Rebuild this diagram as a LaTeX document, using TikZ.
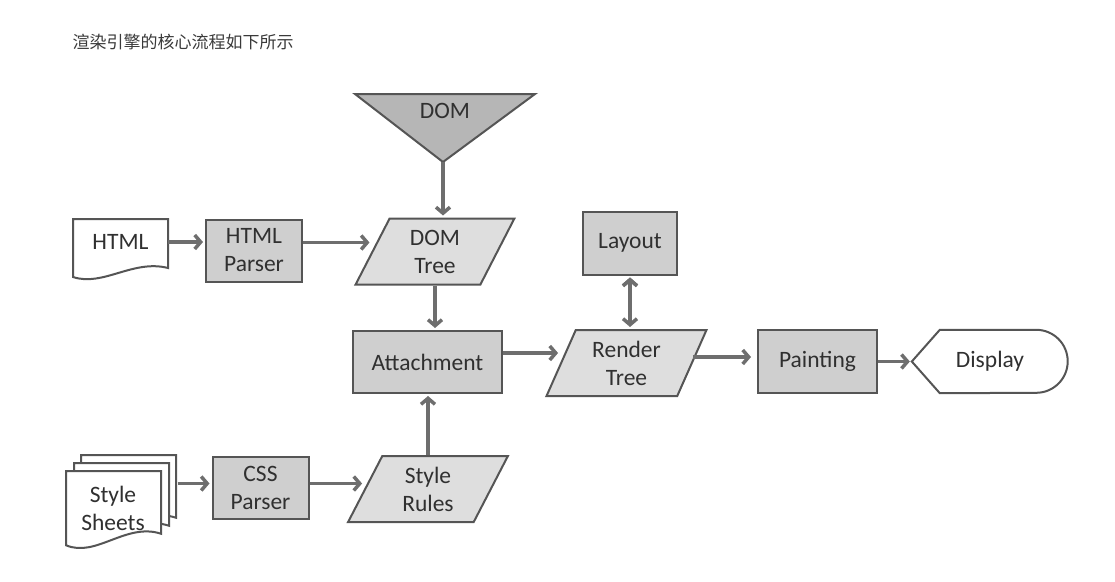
\documentclass[tikz,border=0pt]{standalone}
\usepackage{fontspec}
\setmainfont{Carlito}
\newfontfamily\cjk{Noto Sans CJK SC}
\usetikzlibrary{arrows.meta, shapes.geometric, positioning}
\definecolor{linegray}{HTML}{555555}
\definecolor{arrowgray}{HTML}{6E6E6E}
\definecolor{boxgray}{HTML}{CFCFCF}
\definecolor{datagray}{HTML}{DEDEDE}
\definecolor{trigray}{HTML}{B6B6B6}
\definecolor{textgray}{HTML}{303030}
\definecolor{titlegray}{HTML}{3A3A3A}
\newcommand{\docpage}[3]{\draw[page, shift={(#1,#2)}, yscale=#3] (0,0) -- (95,0) -- (95,49) .. controls (60,40) and (30,68) .. (0,58) -- cycle;}
\begin{document}
\begin{tikzpicture}[x=1pt, y=-1pt, font=\fontsize{23.5}{28}\selectfont, text=textgray,
        box/.style={draw=linegray, line width=2pt, fill=boxgray, minimum width=96pt, minimum height=62pt, align=center},
        data/.style={trapezium, trapezium left angle=67, trapezium right angle=113, trapezium stretches=true,
                draw=linegray, line width=2pt, fill=datagray, minimum width=160pt, minimum height=66pt, align=center},
        page/.style={draw=linegray, line width=2pt, fill=white},
        doc/.style={minimum width=95pt, minimum height=50pt, align=center},
        arr/.style={draw=arrowgray, line width=3.5pt, shorten >=2pt, -{Straight Barb[length=6pt, width=14pt]}},
        dbl/.style={{Straight Barb[length=6pt, width=14pt]}-{Straight Barb[length=6pt, width=14pt]}, shorten <=2pt}]
        \useasboundingbox (0,0) rectangle (1115,581);
        \node[anchor=west, font=\cjk\fontsize{17}{20}\selectfont, text=titlegray] (title) at (69,42) {渲染引擎的核心流程如下所示};
        % DOM
        \coordinate (domtip) at (443,162);
        \draw[page, fill=trigray] (355,94) -- (535,94) -- (domtip) -- cycle;
        \node (dom) at (445,111) {DOM};
        % documents
        \docpage{73}{219}{1}
        \node[doc] (html) at (120.5,242) {HTML};
        \docpage{81}{455}{1.28}
        \docpage{74}{463}{1.28}
        \docpage{66}{471}{1.28}
        \node[doc] (stylesheets) at (113,508) {Style\\Sheets};
        % process boxes
        \node[box] (htmlparser) at (254,250.5) {HTML\\Parser};
        \node[box] (cssparser) at (260.5,487.5) {CSS\\Parser};
        \node[box, minimum width=149pt] (attachment) at (427.5,362) {Attachment};
        \node[box, minimum width=94pt, minimum height=63pt] (layout) at (630,243) {Layout};
        \node[box, minimum width=119pt, minimum height=63pt] (painting) at (817.5,361.5) {Painting};
        % data
        \node[data] (domtree) at (435,251.5) {DOM\\Tree};
        \node[data] (stylerules) at (428,489) {Style\\Rules};
        \node[data] (rendertree) at (626.5,363) {Render\\Tree};
        % display
        \node[minimum width=156pt, minimum height=63pt] (display) at (990,361.5) {Display};
        \draw[draw=linegray, line width=2pt] (display.west) -- ([xshift=28pt]display.north west) -- ([xshift=-32pt]display.north east)
                arc[start angle=90, end angle=-90, radius=31.5pt] -- ([xshift=28pt]display.south west) -- cycle;
        \path[arr]
        (html.east) edge (html.east -| htmlparser.west)
        ([yshift=8pt]htmlparser.east) edge ([yshift=8pt]htmlparser.east -| domtree.west)
        (domtip) edge (domtip |- domtree.north)
        (domtree.south) edge (domtree.south |- attachment.north)
        ([yshift=4pt]cssparser.west -| stylesheets.east) edge[shorten <=17pt] ([yshift=4pt]cssparser.west)
        ([yshift=4pt]cssparser.east) edge ([yshift=4pt]cssparser.east -| stylerules.west)
        (stylerules.north) edge (stylerules.north |- attachment.south)
        ([yshift=9pt]attachment.east) edge ([yshift=9pt]attachment.east -| rendertree.west)
        ([yshift=6pt]rendertree.east) edge[shorten >=6pt] ([yshift=6pt]rendertree.east -| painting.west)
        (painting) edge (display)
        (layout.south) edge[dbl] (layout.south |- rendertree.north);
\end{tikzpicture}
\end{document}
